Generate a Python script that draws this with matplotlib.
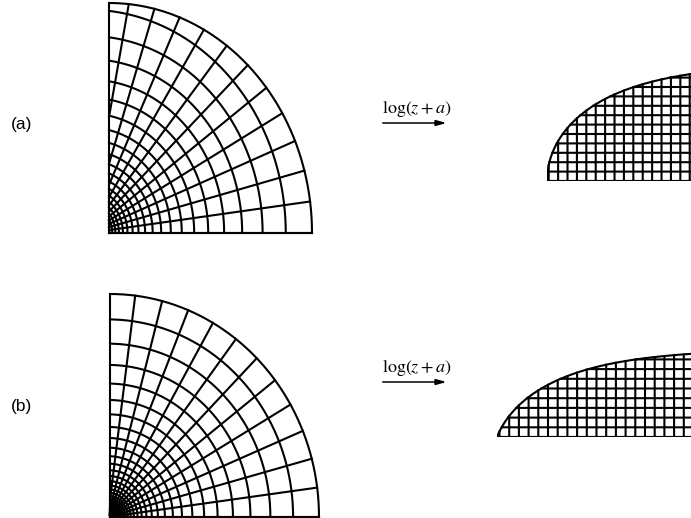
import numpy as np
import matplotlib.pyplot as plt

# quarter disk |z| <= R (first quadrant) and the log(z + a) mesh on it
R = 1.0
shifts = [0.10, 0.01]                # a for rows (a) and (b)
steps = [0.125, np.pi / 24]          # mesh width in the w-plane
edge_angles = [np.pi / 2, 1.19]      # angle of the upper straight edge seen in the w-plane
panel_labels = ["(a)", "(b)"]
map_label = r"$\log(z+a)$"

W, H = 691, 518
LW = 1.5


def px_box(x0, y0, x1, y1):
    # pixel box (top-left origin) -> figure fraction rect
    return [x0 / W, (H - y1) / H, (x1 - x0) / W, (y1 - y0) / H]


def in_sector(z, ang, tol=1e-9):
    return (z.imag >= -tol) & (np.angle(z) <= ang + tol) & (np.abs(z) <= R + tol)


def masked(z, keep):
    z = z.astype(complex).copy()
    z[~keep] = np.nan
    return z


def grid_values(a, h):
    u_vals = np.log(R + a) - h * np.arange(0, 80)
    u_vals = u_vals[u_vals > np.log(a)]
    v_vals = h * np.arange(0, 30)
    v_vals = v_vals[v_vals < np.pi / 2 - 1e-9]
    return u_vals, v_vals


def draw_disk(ax, a, h):
    u_vals, v_vals = grid_values(a, h)
    th = np.linspace(0, np.pi / 2, 3000)
    for u in u_vals:
        z = -a + np.exp(u) * np.exp(1j * th)
        z = masked(z, in_sector(z, np.pi / 2))
        ax.plot(z.real, z.imag, color="black", lw=LW, clip_on=False)
    t = np.linspace(0, R + a, 3000)
    for v in v_vals:
        z = -a + t * np.exp(1j * v)
        z = masked(z, in_sector(z, np.pi / 2))
        ax.plot(z.real, z.imag, color="black", lw=LW, clip_on=False)
    arc = R * np.exp(1j * th)
    ax.plot(arc.real, arc.imag, color="black", lw=LW, clip_on=False)
    ax.plot([0, 0], [0, R], color="black", lw=LW, clip_on=False)
    ax.plot([0, R], [0, 0], color="black", lw=LW, clip_on=False)
    ax.set_xlim(0, R)
    ax.set_ylim(0, R)
    ax.axis("off")


def draw_strip(ax, a, h, ang):
    u_vals, v_vals = grid_values(a, h)
    vs = np.linspace(0, np.pi / 2, 2000)
    for u in u_vals:
        w = u + 1j * vs
        w = masked(w, in_sector(np.exp(w) - a, ang))
        ax.plot(w.real, w.imag, color="black", lw=LW)
    us = np.linspace(np.log(a), np.log(R + a), 4000)
    for v in v_vals:
        w = us + 1j * v
        w = masked(w, in_sector(np.exp(w) - a, ang))
        ax.plot(w.real, w.imag, color="black", lw=LW)
    s = np.linspace(0, R, 4000)
    for edge in (np.log(s + a), np.log(s * np.exp(1j * ang) + a),
                 np.log(R * np.exp(1j * np.linspace(0, ang, 2000)) + a)):
        ax.plot(edge.real, edge.imag, color="black", lw=LW)
    ax.axis("off")


fig = plt.figure(figsize=(W / 100, H / 100), dpi=100)

disk_boxes = [(109, 3, 312, 233), (110, 294, 319, 517)]
strip_left = [547, 497]
strip_bottom = [181, 437]
cell_px = [9.4, 9.7]
label_y = [125, 407]
arrow_y = [123, 382]

for i, a in enumerate(shifts):
    h = steps[i]
    ax = fig.add_axes(px_box(*disk_boxes[i]))
    draw_disk(ax, a, h)

    k = cell_px[i] / h
    top = strip_bottom[i] - k * 1.7
    bx = fig.add_axes(px_box(strip_left[i], top, W, strip_bottom[i]))
    draw_strip(bx, a, h, edge_angles[i])
    u0 = np.log(a)
    bx.set_xlim(u0, u0 + (W - strip_left[i]) / k)
    bx.set_ylim(0, 1.7)

    fig.text(22 / W, 1 - label_y[i] / H, panel_labels[i], ha="center", va="center",
             fontsize=12.5, family="Liberation Sans")
    fig.text(417 / W, 1 - (arrow_y[i] - 14) / H, map_label, ha="center", va="center",
             fontsize=13, math_fontfamily="stix")
    fig.add_artist(plt.Line2D([383 / W, 443 / W], [1 - arrow_y[i] / H] * 2,
                              color="black", lw=1.1))
    fig.patches.append(plt.Polygon([[435 / W, 1 - (arrow_y[i] - 2.5) / H],
                                    [444 / W, 1 - arrow_y[i] / H],
                                    [435 / W, 1 - (arrow_y[i] + 2.5) / H]],
                                   closed=True, color="black",
                                   transform=fig.transFigure, figure=fig))

fig.savefig("out.png", dpi=100)
